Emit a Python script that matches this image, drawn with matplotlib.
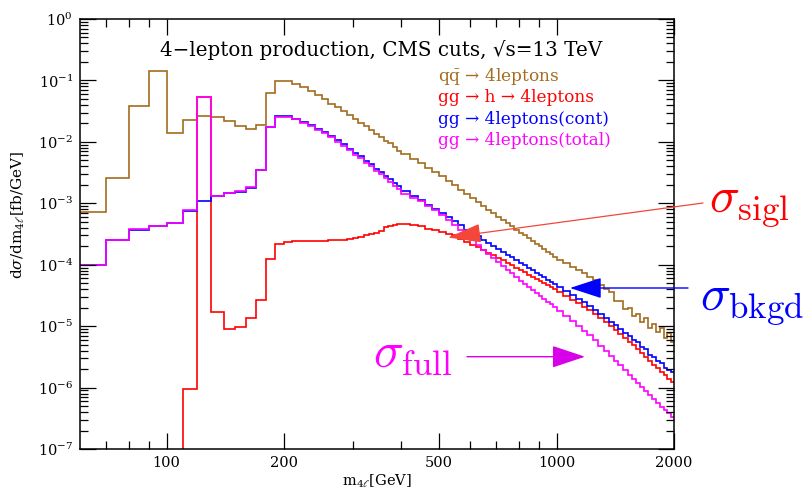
import numpy as np
import matplotlib
matplotlib.use('Agg')
import matplotlib.pyplot as plt
from matplotlib.ticker import FixedLocator, FixedFormatter, LogLocator, NullFormatter

plt.rcParams['font.family'] = ['DejaVu Serif']
plt.rcParams['mathtext.fontset'] = 'dejavuserif'

# ---------------- data ----------------
mass_edges = np.concatenate([np.arange(60, 400, 10), np.arange(400, 1000, 20),
                             np.arange(1000, 2001, 40)])

qq_4l = [7.1e-4, 2.6e-3, 0.038, 0.144, 0.0138, 0.0227, 0.0267, 0.0251, 0.0221, 0.018,
         0.0164, 0.019, 0.062, 0.099, 0.099, 0.0875, 0.077, 0.067, 0.057, 0.049,
         0.042, 0.0365, 0.0318, 0.0274, 0.0235, 0.0205, 0.018, 0.0156, 0.0134, 0.0119,
         0.0104, 0.0095, 0.0081, 0.0072,
         6.3e-3, 5.25e-3, 4.47e-3, 3.8e-3, 3.26e-3, 2.75e-3, 2.31e-3, 1.95e-3, 1.65e-3, 1.41e-3,
         1.21e-3, 1.04e-3, 9.0e-4, 7.85e-4, 6.85e-4, 6.0e-4, 5.35e-4, 4.73e-4, 4.2e-4, 3.74e-4,
         3.34e-4, 2.99e-4, 2.69e-4, 2.43e-4, 2.19e-4, 1.98e-4, 1.8e-4, 1.63e-4, 1.49e-4, 1.36e-4,
         1.2e-4, 1.06e-4, 9.2e-5, 8.1e-5, 7.2e-5, 6.4e-5, 5.7e-5, 4.75e-5, 4.0e-5, 3.6e-5,
         2.6e-5, 2.6e-5, 1.9e-5, 2.0e-5, 1.45e-5, 1.58e-5, 1.17e-5, 1.35e-5, 9.5e-6, 1.1e-5,
         7.9e-6, 9.5e-6, 6.3e-6, 7.6e-6, 5.6e-6]

gg_h_4l = [1e-9, 1e-9, 1e-9, 1e-9, 1e-9, 9.4e-7, 0.053, 1.7e-5, 9.1e-6, 9.8e-6,
           1.34e-5, 2.7e-5, 1.24e-4, 2.2e-4, 2.33e-4, 2.4e-4, 2.4e-4, 2.4e-4, 2.4e-4, 2.45e-4,
           2.5e-4, 2.5e-4, 2.55e-4, 2.6e-4, 2.75e-4, 2.86e-4, 3.0e-4, 3.16e-4, 3.3e-4, 3.55e-4,
           4.1e-4, 4.3e-4, 4.5e-4, 4.6e-4,
           4.65e-4, 4.45e-4, 4.2e-4, 3.88e-4, 3.62e-4, 3.4e-4, 3.22e-4, 3.0e-4, 2.66e-4, 2.37e-4,
           2.12e-4, 1.91e-4, 1.73e-4, 1.57e-4, 1.43e-4, 1.3e-4, 1.19e-4, 1.08e-4, 9.8e-5, 9.0e-5,
           8.2e-5, 7.5e-5, 6.9e-5, 6.4e-5, 5.9e-5, 5.4e-5, 5.0e-5, 4.7e-5, 4.3e-5, 4.0e-5,
           3.6e-5, 3.1e-5, 2.7e-5, 2.36e-5, 2.07e-5, 1.82e-5, 1.58e-5, 1.34e-5, 1.15e-5, 9.9e-6,
           8.5e-6, 7.4e-6, 6.4e-6, 5.6e-6, 4.9e-6, 4.2e-6, 3.6e-6, 3.1e-6, 2.72e-6, 2.37e-6,
           2.07e-6, 1.81e-6, 1.59e-6, 1.40e-6, 1.24e-6]

gg_cont = [9.9e-5, 2.5e-4, 3.7e-4, 4.2e-4, 4.8e-4, 7.6e-4, 1.1e-3, 1.33e-3, 1.46e-3, 1.55e-3,
           1.8e-3, 3.5e-3, 0.0177, 0.0266, 0.0264, 0.0238, 0.021, 0.0186, 0.0162, 0.0143,
           0.0123, 0.0106, 0.0091, 0.0077, 0.0066, 0.0058, 0.0049, 0.0043, 0.00366, 0.0032,
           0.0028, 0.00246, 0.0021, 0.0019,
           1.56e-3, 1.32e-3, 1.12e-3, 9.55e-4, 8.18e-4, 7.02e-4, 6.01e-4, 5.15e-4, 4.38e-4, 3.74e-4,
           3.26e-4, 2.88e-4, 2.55e-4, 2.27e-4, 2.03e-4, 1.82e-4, 1.63e-4, 1.46e-4, 1.32e-4, 1.19e-4,
           1.08e-4, 9.8e-5, 8.9e-5, 8.1e-5, 7.4e-5, 6.8e-5, 6.2e-5, 5.7e-5, 5.3e-5, 4.9e-5,
           4.3e-5, 3.7e-5, 3.2e-5, 2.8e-5, 2.44e-5, 2.14e-5, 1.86e-5, 1.59e-5, 1.37e-5, 1.18e-5,
           1.03e-5, 8.9e-6, 7.8e-6, 6.9e-6, 6.0e-6, 5.5e-6, 4.5e-6, 4.2e-6, 3.4e-6, 3.2e-6,
           2.7e-6, 2.55e-6, 2.1e-6, 1.95e-6, 1.8e-6]

gg_total = [9.9e-5, 2.55e-4, 3.85e-4, 4.25e-4, 4.85e-4, 7.7e-4, 0.054, 1.33e-3, 1.46e-3, 1.57e-3,
            1.82e-3, 3.5e-3, 0.0177, 0.0258, 0.0252, 0.0232, 0.0204, 0.018, 0.0156, 0.0137,
            0.0118, 0.0101, 0.0087, 0.0073, 0.0062, 0.0054, 0.0046, 0.0040, 0.0034, 0.00295,
            0.0026, 0.00226, 0.00193, 0.00174,
            1.44e-3, 1.24e-3, 1.07e-3, 9.0e-4, 7.7e-4, 6.5e-4, 5.4e-4, 4.5e-4, 3.7e-4, 3.03e-4,
            2.5e-4, 2.08e-4, 1.75e-4, 1.5e-4, 1.29e-4, 1.11e-4, 9.6e-5, 8.3e-5, 7.2e-5, 6.3e-5,
            5.5e-5, 4.9e-5, 4.4e-5, 3.9e-5, 3.47e-5, 3.11e-5, 2.79e-5, 2.51e-5, 2.26e-5, 2.05e-5,
            1.76e-5, 1.45e-5, 1.2e-5, 1.0e-5, 8.4e-6, 7.1e-6, 5.9e-6, 4.8e-6, 4.0e-6, 3.3e-6,
            2.74e-6, 2.29e-6, 1.93e-6, 1.63e-6, 1.38e-6, 1.18e-6, 1.01e-6, 8.7e-7, 7.5e-7, 6.5e-7,
            5.65e-7, 4.9e-7, 4.3e-7, 3.8e-7, 3.3e-7]

x_major_ticks = [100, 200, 500, 1000, 2000]
x_major_labels = ['100', '200', '500', '1000', '2000']
x_minor_ticks = [70, 80, 90, 300, 400, 600, 700, 800, 900]
y_major_ticks = [1e-7, 1e-6, 1e-5, 1e-4, 1e-3, 1e-2, 1e-1, 1e0]
y_major_labels = [r'$10^{-7}$', r'$10^{-6}$', r'$10^{-5}$', r'$10^{-4}$',
                  r'$10^{-3}$', r'$10^{-2}$', r'$10^{-1}$', r'$10^{0}$']

legend_labels = [r'q$\bar{\mathrm{q}}$ → 4leptons', 'gg → h → 4leptons',
                 'gg → 4leptons(cont)', 'gg → 4leptons(total)']

BROWN = '#a36c1f'
RED = '#ff0000'
BLUE = '#0000ff'
MAGENTA = '#ff00ff'

# ---------------- figure ----------------
W, H = 809, 490
fig = plt.figure(figsize=(W / 100, H / 100), dpi=100)
ax = fig.add_axes([80 / W, 41 / H, 594 / W, 430 / H])
ax.set_xscale('log')
ax.set_yscale('log')

series = [(qq_4l, BROWN), (gg_h_4l, RED), (gg_cont, BLUE), (gg_total, MAGENTA)]
for vals, col in series:
    ax.stairs(vals, mass_edges, color=col, lw=1.2, baseline=None)

ax.set_xlim(60, 2000)
ax.set_ylim(1e-7, 1)

ax.xaxis.set_major_locator(FixedLocator(x_major_ticks))
ax.xaxis.set_major_formatter(FixedFormatter(x_major_labels))
ax.xaxis.set_minor_locator(FixedLocator(x_minor_ticks))
ax.xaxis.set_minor_formatter(NullFormatter())
ax.yaxis.set_major_locator(FixedLocator(y_major_ticks))
ax.yaxis.set_major_formatter(FixedFormatter(y_major_labels))
ax.yaxis.set_minor_locator(LogLocator(base=10, subs=np.arange(2, 10), numticks=30))
ax.yaxis.set_minor_formatter(NullFormatter())

ax.tick_params(which='both', direction='in', top=True, right=True, width=0.9, labelsize=10.5)
ax.tick_params(which='major', length=11.5, pad=5)
ax.tick_params(which='minor', length=5.8)
for s in ax.spines.values():
    s.set_linewidth(1.1)

ax.set_xlabel(r'm$_{4\ell}$[GeV]', fontsize=10.5)
ax.xaxis.set_label_coords(0.5, -0.054)
ax.set_ylabel(r'd$\sigma$/dm$_{4\ell}$[fb/GeV]', fontsize=11)
ax.yaxis.set_label_coords(-0.089, 0.544)

def fx(px):
    return px / W

def fy(py):
    return 1 - py / H

fig.text(fx(381), fy(55.5), '4−lepton production, CMS cuts, √s=13 TeV',
         ha='center', va='baseline', fontsize=14.3)

leg_cols = [BROWN, RED, BLUE, MAGENTA]
leg_y = [81, 102, 124, 145]
for lab, col, yy in zip(legend_labels, leg_cols, leg_y):
    fig.text(fx(438), fy(yy), lab, color=col, fontsize=12.2, va='baseline')

fig.text(fx(709), fy(211), r'$\sigma_{\rm sigl}$', color=RED, fontsize=36,
         va='baseline', math_fontfamily='cm')
fig.text(fx(700), fy(309), r'$\sigma_{\rm bkgd}$', color=BLUE, fontsize=36,
         va='baseline', math_fontfamily='cm')
fig.text(fx(373), fy(366), r'$\sigma_{\rm full}$', color=MAGENTA, fontsize=36,
         va='baseline', math_fontfamily='cm')

def arrow(tail, tip, col, hl, hw, lw=1.0):
    ax.annotate('', xy=(tip[0], H - tip[1]), xycoords='figure pixels',
                xytext=(tail[0], H - tail[1]), textcoords='figure pixels',
                arrowprops=dict(arrowstyle=f'-|>,head_length={hl},head_width={hw}',
                                mutation_scale=10, color=col, lw=lw,
                                shrinkA=0, shrinkB=0),
                annotation_clip=False)

arrow((703, 203), (448, 237.5), '#f2473a', 2.1, 0.6, lw=0.9)
arrow((688, 288), (570, 288), BLUE, 2.0, 0.65, lw=1.0)
arrow((467, 356.7), (585, 356.7), '#d800e8', 2.1, 0.7, lw=1.0)

fig.savefig('out.png', dpi=100)
